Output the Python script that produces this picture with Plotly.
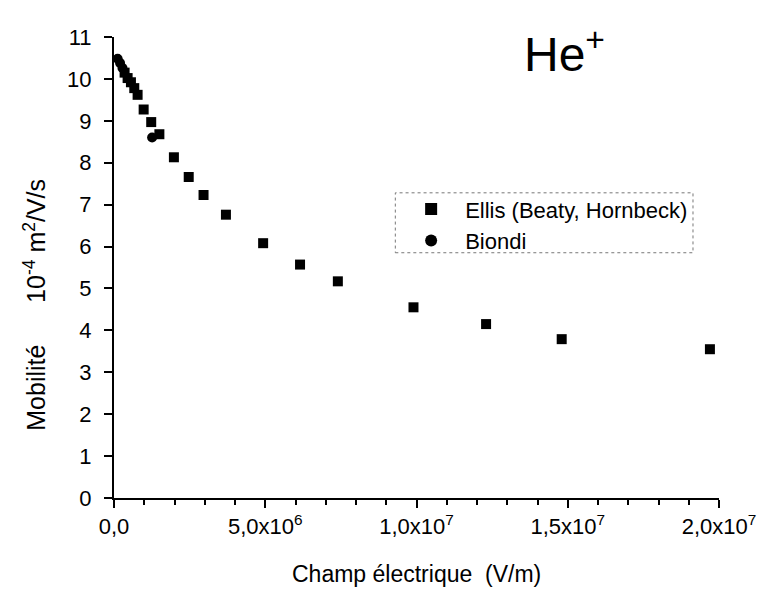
import plotly.graph_objects as go

# Ellis (Beaty, Hornbeck) - champ en V/m, mobilite en 1e-4 m2/V/s
ellis_champ = [0.35e6, 0.45e6, 0.56e6, 0.67e6, 0.78e6, 0.98e6, 1.23e6, 1.5e6, 1.98e6,
               2.47e6, 2.96e6, 3.7e6, 4.93e6, 6.15e6, 7.4e6, 9.9e6, 12.3e6,
               14.8e6, 19.7e6]
ellis_mob = [10.15, 10.02, 9.92, 9.78, 9.62, 9.27, 8.97, 8.68, 8.13,
             7.66, 7.23, 6.76, 6.08, 5.57, 5.17, 4.55, 4.15,
             3.79, 3.55]

# Biondi
biondi_champ = [0.12e6, 0.2e6, 0.28e6, 1.26e6]
biondi_mob = [10.48, 10.38, 10.26, 8.6]

x_tickvals = [0, 5e6, 1e7, 1.5e7, 2e7]
x_ticktext = ['0,0', '5,0x10<sup>6</sup>', '1,0x10<sup>7</sup>',
              '1,5x10<sup>7</sup>', '2,0x10<sup>7</sup>']
y_tickvals = list(range(0, 12))

font = 'Liberation Sans, Arial, sans-serif'

fig = go.Figure()
fig.add_trace(go.Scatter(x=ellis_champ, y=ellis_mob, mode='markers',
                         name='Ellis (Beaty, Hornbeck)',
                         marker=dict(symbol='square', size=10, color='black')))
fig.add_trace(go.Scatter(x=biondi_champ, y=biondi_mob, mode='markers',
                         name='Biondi',
                         marker=dict(symbol='circle', size=10, color='black')))

fig.update_xaxes(range=[0, 2e7], tickvals=x_tickvals, ticktext=x_ticktext,
                 showline=True, linecolor='black', linewidth=2,
                 ticks='outside', ticklen=8, tickwidth=2, tickcolor='black',
                 minor=dict(dtick=1e6, ticks='outside', ticklen=5, tickwidth=2,
                            tickcolor='black'),
                 showgrid=False, zeroline=False,
                 tickfont=dict(size=22, color='black'))
fig.update_yaxes(range=[0, 11], tickvals=y_tickvals,
                 showline=True, linecolor='black', linewidth=2,
                 ticks='outside', ticklen=8, tickwidth=2, tickcolor='black',
                 ticklabelstandoff=8,
                 showgrid=False, zeroline=False,
                 tickfont=dict(size=22, color='black'))

# titres des axes
fig.add_annotation(text='Champ électrique  (V/m)', xref='paper', yref='paper',
                   x=0.5, y=-0.165, xanchor='center', yanchor='middle',
                   showarrow=False, font=dict(size=23, color='black'))
fig.add_annotation(text='Mobilité      10<sup>-4</sup> m<sup>2</sup>/V/s',
                   xref='paper', yref='paper', x=-0.13, y=0.42, textangle=-90,
                   xanchor='center', yanchor='middle',
                   showarrow=False, font=dict(size=25, color='black'))

# cadre pointille de la legende
fig.add_shape(type='rect', xref='paper', yref='paper',
              x0=0.465, x1=0.957, y0=0.532, y1=0.662,
              line=dict(color='#777', width=1, dash='dot'))

fig.add_annotation(text='He<sup>+</sup>', xref='paper', yref='paper',
                   x=0.815, y=1.04, yanchor='top', showarrow=False,
                   font=dict(size=48, color='black'))

fig.update_layout(width=766, height=592, plot_bgcolor='white', paper_bgcolor='white',
                  font=dict(family=font, color='black'),
                  margin=dict(l=106, r=55, t=29, b=102),
                  legend=dict(x=0.468, y=0.672, xanchor='left', yanchor='top',
                              bgcolor='rgba(0,0,0,0)', font=dict(size=22),
                              itemwidth=58, tracegroupgap=0, itemsizing='constant'),
                  showlegend=True)

fig.write_html('out.html')
